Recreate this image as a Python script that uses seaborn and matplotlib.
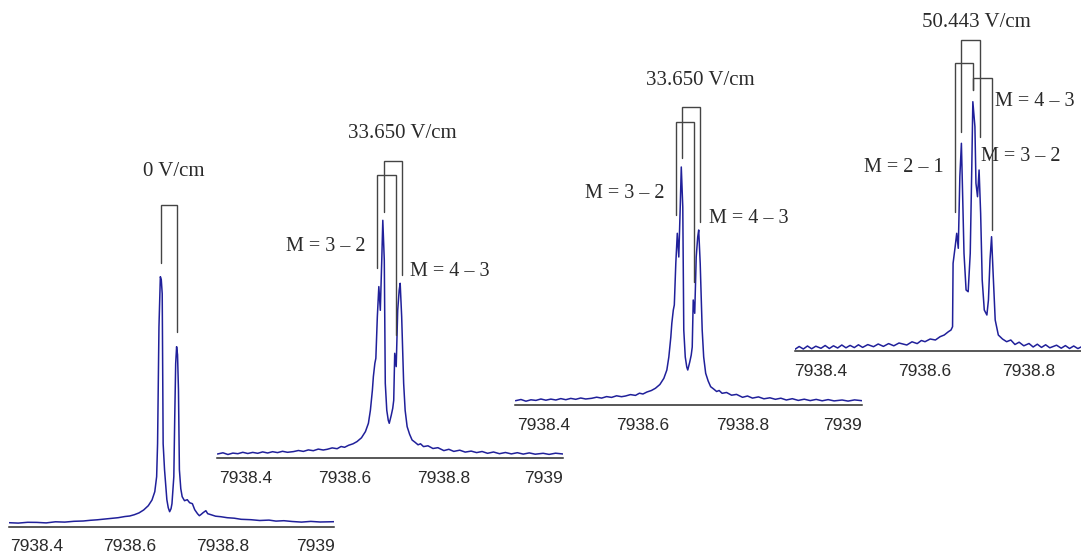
import numpy as np
import pandas as pd
import matplotlib
matplotlib.use("Agg")
import matplotlib.pyplot as plt
import seaborn as sns

# ---- spectra (wavenumber / cm-1, intensity arb. units) ----
wn1 = [7938.340, 7938.360, 7938.380, 7938.400, 7938.420, 7938.440, 7938.460, 7938.480,
       7938.500, 7938.515, 7938.530, 7938.545, 7938.560, 7938.575, 7938.590, 7938.600,
       7938.610, 7938.620, 7938.630, 7938.640, 7938.648, 7938.654, 7938.658, 7938.660,
       7938.663, 7938.666, 7938.668, 7938.670, 7938.672, 7938.675, 7938.680, 7938.683,
       7938.686, 7938.689, 7938.691, 7938.695, 7938.697, 7938.699, 7938.701, 7938.703,
       7938.705, 7938.707, 7938.710, 7938.713, 7938.718, 7938.724, 7938.729, 7938.735,
       7938.740, 7938.746, 7938.750, 7938.753, 7938.758, 7938.764, 7938.768, 7938.775,
       7938.785, 7938.796, 7938.810, 7938.825, 7938.840, 7938.861, 7938.880, 7938.900,
       7938.915, 7938.932, 7938.950, 7938.970, 7938.990, 7939.010, 7939.040]
int1 = [4.0, 3.6, 4.4, 4.3, 3.8, 4.9, 4.6, 5.4,
        5.7, 6.4, 6.9, 7.6, 8.3, 9.0, 10.2, 10.7,
        12.0, 13.8, 16.7, 21.0, 26.7, 35.0, 50.0, 83.0,
        200.0, 250.0, 247.0, 233.0, 83.0, 57.0, 27.0, 19.0,
        15.0, 18.0, 23.0, 50.0, 110.0, 163.0, 180.0, 172.0,
        137.0, 57.0, 38.0, 30.0, 26.0, 27.0, 24.0, 23.0,
        17.0, 13.0, 11.0, 12.0, 14.0, 16.0, 13.0, 12.0,
        10.5, 10.0, 9.0, 8.5, 7.4, 7.0, 6.2, 6.6,
        5.6, 6.0, 5.2, 4.6, 5.3, 4.7, 5.0]

wn2 = [7938.344, 7938.355, 7938.365, 7938.375, 7938.385, 7938.395, 7938.405, 7938.415,
       7938.425, 7938.435, 7938.445, 7938.455, 7938.465, 7938.475, 7938.485, 7938.497,
       7938.507, 7938.517, 7938.527, 7938.537, 7938.547, 7938.557, 7938.565, 7938.575,
       7938.585, 7938.593, 7938.600, 7938.608, 7938.617, 7938.625, 7938.634, 7938.642,
       7938.648, 7938.652, 7938.656, 7938.658, 7938.661, 7938.663, 7938.666, 7938.669,
       7938.672, 7938.675, 7938.677, 7938.680, 7938.682, 7938.685, 7938.688, 7938.690,
       7938.694, 7938.697, 7938.699, 7938.701, 7938.704, 7938.707, 7938.710, 7938.712,
       7938.715, 7938.719, 7938.722, 7938.726, 7938.731, 7938.736, 7938.742, 7938.748,
       7938.753, 7938.759, 7938.768, 7938.778, 7938.788, 7938.800, 7938.810, 7938.820,
       7938.832, 7938.843, 7938.855, 7938.866, 7938.877, 7938.888, 7938.900, 7938.912,
       7938.924, 7938.936, 7938.948, 7938.960, 7938.972, 7938.984, 7939.000, 7939.012,
       7939.025, 7939.040]
int2 = [4.3, 5.5, 3.8, 5.2, 4.6, 6.0, 4.8, 5.9,
        5.0, 6.4, 5.3, 6.6, 5.7, 7.0, 6.0, 6.7,
        7.8, 6.9, 8.4, 7.6, 9.2, 8.3, 9.0, 10.4,
        9.6, 11.8, 11.0, 13.0, 14.5, 16.7, 20.5, 26.7,
        35.0, 48.0, 68.0, 81.7, 95.0, 100.0, 141.7, 171.7,
        148.0, 200.0, 238.0, 198.0, 75.0, 48.0, 38.0, 35.0,
        43.0, 50.0, 58.0, 105.0, 91.7, 148.0, 168.0, 175.0,
        141.7, 75.0, 48.0, 31.7, 24.0, 18.3, 16.0, 13.5,
        14.5, 11.7, 12.5, 9.8, 10.6, 7.7, 9.0, 6.9,
        8.1, 6.2, 7.2, 5.7, 6.8, 5.0, 6.3, 4.6,
        5.8, 4.4, 5.6, 4.2, 5.4, 4.1, 5.0, 3.9,
        5.1, 4.3]

# the third trace is the same 33.650 V/cm spectrum
wn3 = wn2
int3 = int2

wn4 = [7938.350, 7938.358, 7938.366, 7938.374, 7938.382, 7938.390, 7938.400, 7938.408,
       7938.416, 7938.424, 7938.432, 7938.440, 7938.448, 7938.456, 7938.464, 7938.472,
       7938.480, 7938.490, 7938.501, 7938.510, 7938.520, 7938.530, 7938.540, 7938.550,
       7938.565, 7938.575, 7938.585, 7938.593, 7938.600, 7938.610, 7938.620, 7938.629,
       7938.637, 7938.645, 7938.650, 7938.653, 7938.654, 7938.658, 7938.661, 7938.664,
       7938.667, 7938.670, 7938.672, 7938.675, 7938.679, 7938.683, 7938.687, 7938.690,
       7938.692, 7938.696, 7938.698, 7938.701, 7938.704, 7938.707, 7938.710, 7938.714,
       7938.719, 7938.722, 7938.725, 7938.728, 7938.731, 7938.735, 7938.741, 7938.749,
       7938.757, 7938.765, 7938.773, 7938.781, 7938.790, 7938.800, 7938.808, 7938.816,
       7938.824, 7938.832, 7938.840, 7938.853, 7938.862, 7938.870, 7938.878, 7938.886,
       7938.894, 7938.900]
int4 = [1.7, 4.5, 2.0, 5.0, 2.2, 4.8, 2.7, 5.5,
        2.5, 5.2, 3.0, 6.0, 3.2, 5.6, 3.4, 6.2,
        3.6, 6.4, 4.3, 7.0, 4.6, 7.4, 5.2, 8.0,
        6.0, 9.2, 7.4, 10.5, 9.3, 12.0, 11.0, 14.3,
        16.0, 19.3, 21.0, 24.3, 87.7, 104.3, 117.7, 102.7,
        174.3, 207.7, 164.3, 97.7, 61.0, 59.3, 97.7, 184.3,
        249.3, 224.3, 167.7, 154.3, 181.0, 137.7, 71.0, 41.0,
        36.0, 51.0, 91.0, 114.3, 77.7, 31.0, 16.0, 12.0,
        9.3, 11.0, 6.5, 8.8, 5.2, 7.5, 4.0, 6.8,
        3.6, 6.2, 3.2, 5.8, 2.8, 5.4, 2.5, 5.0,
        2.4, 4.0]

fields = ["0 V/cm", "33.650 V/cm", "33.650 V/cm", "50.443 V/cm"]
ticks_a = [7938.4, 7938.6, 7938.8, 7939.0]
ticklabels_a = ["7938.4", "7938.6", "7938.8", "7939"]
ticks_b = [7938.4, 7938.6, 7938.8]
ticklabels_b = ["7938.4", "7938.6", "7938.8"]

# line pairs (left peak, right peak) marked by brackets
pairs1 = [(7938.667, 7938.702)]
pairs2 = [(7938.666, 7938.703), (7938.679, 7938.715)]
pairs4 = [(7938.657, 7938.692), (7938.669, 7938.706), (7938.692, 7938.728)]

# ---- layout (pixels of a 1081 x 559 canvas) ----
W, H = 1081, 559
# left px, right px, axis-line y px, xlim
panels = [
    (9, 334, 526.7, (7938.340, 7939.040)),
    (217, 563, 458.3, (7938.343, 7939.040)),
    (515, 862, 405.0, (7938.343, 7939.040)),
    (795, 1081, 351.0, (7938.350, 7938.900)),
]
# bracket geometry: (top, left leg bottom, right leg bottom)
bracket_h = [
    [(321.7, 263.7, 194.7)],
    [(283.3, 190.3, 123.3), (297.6, 246.6, 183.3)],
    [(283.3, 190.3, 123.3), (297.6, 246.6, 183.3)],
    [(288.3, 139.0, 261.0), (311.0, 219.0, 214.0), (273.0, 261.0, 121.0)],
]
title_pos = [(7938.694, 355.7), (7938.716, 324.3), (7938.716, 324.3), (7938.699, 328.3)]
m_labels = [
    [],
    [("M = 3 – 2", 7938.643, 211.6, "right"), ("M = 4 – 3", 7938.732, 186.6, "left")],
    [("M = 3 – 2", 7938.643, 211.6, "right"), ("M = 4 – 3", 7938.732, 186.6, "left")],
    [("M = 2 – 1", 7938.635, 183.0, "right"), ("M = 4 – 3", 7938.735, 249.3, "left"),
     ("M = 3 – 2", 7938.707, 194.3, "left")],
]

sns.set_style("white")
plt.rcParams["font.family"] = ["Liberation Sans", "DejaVu Sans"]

spec_color = "#20209a"
ink = "#2a2a2a"
serif = ["Liberation Serif", "DejaVu Serif"]

fig = plt.figure(figsize=(W / 100, H / 100), dpi=100)
fig.patch.set_facecolor("white")

spectra = [(wn1, int1), (wn2, int2), (wn3, int3), (wn4, int4)]
pair_sets = [pairs1, pairs2, pairs2, pairs4]

for i, ((left, right, ay, xlim), (wn, inten)) in enumerate(zip(panels, spectra)):
    ax = fig.add_axes([left / W, (H - ay) / H, (right - left) / W, ay / H])
    ax.patch.set_alpha(0)
    df = pd.DataFrame({"wn": wn, "I": inten})
    sns.lineplot(data=df, x="wn", y="I", ax=ax, color=spec_color, linewidth=1.1,
                 estimator=None, sort=False)
    ax.set_xlim(*xlim)
    ax.set_ylim(0, ay)
    for s in ["left", "right", "top"]:
        ax.spines[s].set_visible(False)
    ax.spines["bottom"].set_color(ink)
    ax.spines["bottom"].set_linewidth(1.1)
    ax.set_yticks([])
    if i < 3:
        ax.set_xticks(ticks_a)
        ax.set_xticklabels(ticklabels_a)
    else:
        ax.set_xticks(ticks_b)
        ax.set_xticklabels(ticklabels_b)
    ax.tick_params(axis="x", direction="out", length=4, width=1, color=ink,
                   labelsize=12.5, labelcolor=ink, pad=5)
    ax.set_xlabel("")
    ax.set_ylabel("")

    for (xl, xr), (top, lb, rb) in zip(pair_sets[i], bracket_h[i]):
        ax.plot([xl, xl, xr, xr], [lb, top, top, rb], color="#444444",
                linewidth=1.0, clip_on=False, solid_joinstyle="miter")

    tx, ty = title_pos[i]
    ax.text(tx, ty, fields[i], ha="center", va="center", fontsize=15,
            family=serif, color=ink, clip_on=False)
    for txt, mx, my, ha in m_labels[i]:
        ax.text(mx, my, txt, ha=ha, va="center", fontsize=14.5,
                family=serif, color=ink, clip_on=False)

fig.savefig("out.png", dpi=100, facecolor="white")
